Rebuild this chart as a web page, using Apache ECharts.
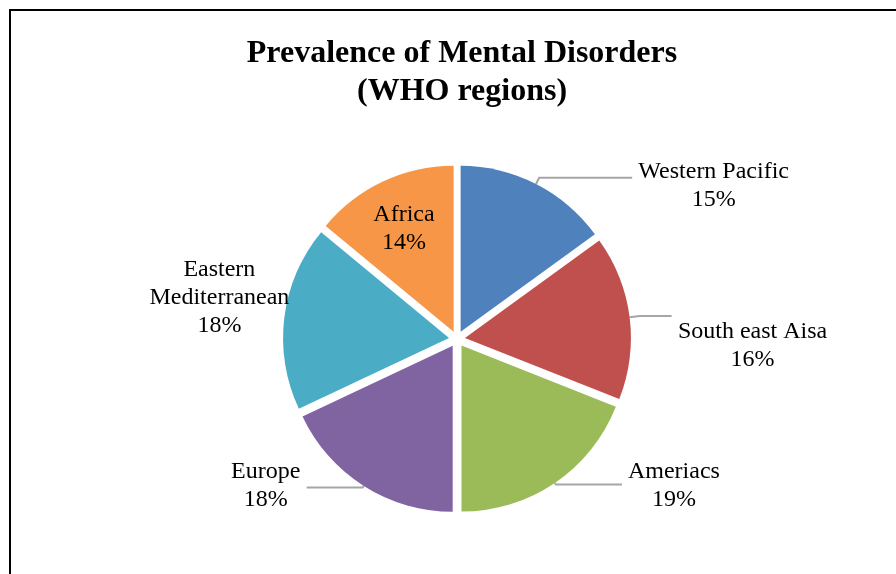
<!DOCTYPE html>
<html>
<head>
<meta charset="utf-8">
<script src="https://cdn.jsdelivr.net/npm/echarts@6/dist/echarts.min.js"></script>
<style>html,body{margin:0;padding:0;background:#fff}#c{width:896px;height:574px}</style>
</head>
<body>
<div id="c"></div>
<script>
// ---- data ----
const categories = ['Western Pacific', 'South east Aisa', 'Ameriacs', 'Europe', 'Eastern\nMediterranean', 'Africa'];
const values = [15, 16, 19, 18, 18, 14];

// ---- styles ----
const colors = ['#4F81BD', '#C0504D', '#9BBB59', '#8064A2', '#4BACC6', '#F79646'];
const lineLen = [7, 10, 2, 2, 0, 0];
const lineLen2 = [93, 32, 66, 56, 0, 0];
const showLine = [true, true, true, true, false, false];
const labelPad = [[16, 0, 0, 0], [60, 0, 0, 0], [2, 0, 0, 0], [0, 0, 4, 0], [0, 0, 38, 0], [0, 26, 50, 0]];
const labelDist = [5, 5, 5, 5, -6, 5];
const FONT = 'Liberation Serif';
const FS = 24;

const ctx = document.createElement('canvas').getContext('2d');
ctx.font = FS + 'px "' + FONT + '"';
function blockWidth(lines) { return Math.ceil(Math.max.apply(null, lines.map(l => ctx.measureText(l).width))) + 2; }

const total = values.reduce((a, b) => a + b, 0);
const chart = echarts.init(document.getElementById('c'));
chart.setOption({
  animation: false,
  title: {
    text: 'Prevalence of Mental Disorders\n(WHO regions)',
    left: 457, top: 30, textAlign: 'center',
    textStyle: { fontFamily: FONT, fontWeight: 'bold', fontSize: 32, color: '#000', lineHeight: 38 }
  },
  graphic: [{
    type: 'rect', shape: { x: 10, y: 10, width: 900, height: 600 },
    style: { fill: 'none', stroke: '#000', lineWidth: 2 }, silent: true
  }],
  series: [{
    type: 'pie',
    center: [457, 339],
    radius: 166,
    startAngle: 90,
    clockwise: true,
    selectedMode: 'multiple',
    selectedOffset: 8,
    emphasis: { disabled: true },
    data: categories.map((n, i) => {
      const lines = n.split('\n').concat([Math.round(values[i] / total * 100) + '%']);
      const w = blockWidth(lines);
      return {
        name: n, value: values[i], selected: true,
        itemStyle: { color: colors[i] },
        label: {
          position: i === 5 ? 'inside' : 'outside',
          padding: labelPad[i],
          distanceToLabelLine: labelDist[i],
          formatter: () => lines.map(l => '{t|' + l + '}').join('\n'),
          rich: { t: { width: w, align: 'center', fontFamily: FONT, fontSize: FS, lineHeight: 28, color: '#000' } }
        },
        labelLine: { show: showLine[i], length: lineLen[i], length2: lineLen2[i] }
      };
    }),
    label: {
      show: true, fontFamily: FONT, fontSize: FS, color: '#000', lineHeight: 28, overflow: 'none'
    },
    labelLine: { lineStyle: { color: '#A6A6A6', width: 2 } }
  }]
});
</script>
</body>
</html>
